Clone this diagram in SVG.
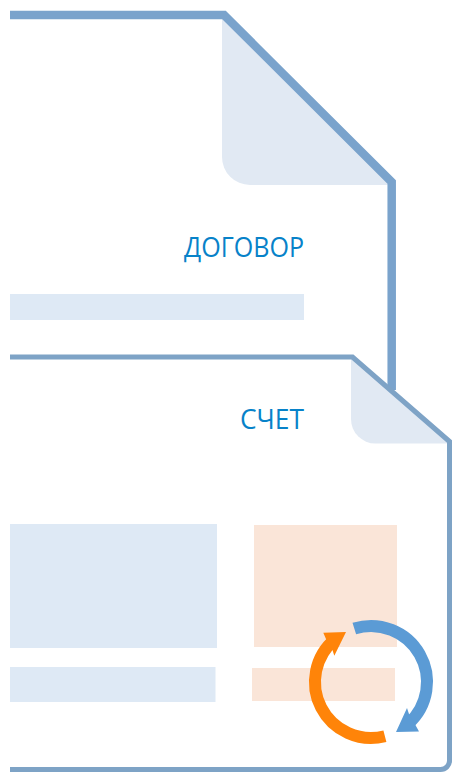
<svg xmlns="http://www.w3.org/2000/svg" width="452" height="772" viewBox="0 0 452 772">
<style>
.bar{fill:#dee9f5}
.peach{fill:#fae5d8}
.fold{fill:#e1e9f3}
.edge{fill:none;stroke:#7aa3cc;stroke-linejoin:miter}
.edge2{fill:none;stroke:#7ea3c6;stroke-linejoin:miter}
.label{font-family:"Open Sans","Noto Sans",sans-serif;font-size:26.5px;fill:#0782c9}
.arc{fill:none;stroke-width:12}
</style>
<rect width="452" height="772" fill="#fff"/>
<g id="contract">
<path class="fold" d="M222 19V157A28 28 0 0 0 250 185H388L392 183V178L226 15Z"/>
<path class="edge" stroke-width="8.500" d="M10 15H224L391.700 182V390"/>
<rect class="bar" x="10" y="294" width="294" height="26"/>
<text class="label" x="184" y="257" textLength="120" lengthAdjust="spacingAndGlyphs">ДОГОВОР</text>
</g>
<g id="invoice">
<path d="M10 357H352.500L450 441.500V762A6.500 6.500 0 0 1 443.500 769.500H10Z" fill="#fff"/>
<path class="fold" d="M351 359V419A24.500 24.500 0 0 0 375.500 443.500H449L450 441.500L353 357Z"/>
<path class="edge2" stroke-width="5" d="M10 357H352.500L449.500 441.500V760A9 9 0 0 1 440.500 769.500H10"/>
<text class="label" x="240" y="429" textLength="64" lengthAdjust="spacingAndGlyphs">СЧЕТ</text>
<rect class="bar" x="10" y="524" width="207" height="124"/>
<rect class="peach" x="254" y="525" width="143" height="122"/>
<rect class="bar" x="10" y="667" width="205.500" height="35"/>
<rect class="peach" x="252" y="668" width="143" height="33"/>
</g>
<g id="cycle">
<path class="arc" stroke="#5b9bd5" d="M354.300 628.550A56 56 0 0 1 408.500 723.600"/>
<polygon fill="#5b9bd5" points="396,732 419,731.500 415.300,724.700 409,714 407,708"/>
<path class="arc" stroke="#ff8409" d="M384.900 736.250A56 56 0 0 1 335.050 639.050"/>
<polygon fill="#ff8409" points="346,632 323.300,632.700 326,639 332.700,650.700 334.300,655.700"/>
</g>
</svg>
